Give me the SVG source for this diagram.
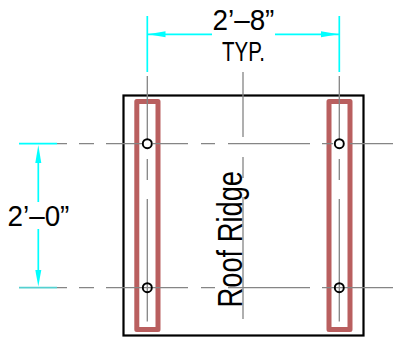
<svg xmlns="http://www.w3.org/2000/svg" width="393" height="337" viewBox="0 0 393 337">
<style>
.g{stroke:#858585;stroke-width:1.3;fill:none}
.c{stroke:#00ffff;stroke-width:1.7;fill:none}
.a{fill:#00ffff;stroke:none}
.r{fill:none;stroke:#b95f5f;stroke-width:5;stroke-linejoin:round}
.h{stroke:#000;stroke-width:1.9}
text{font-family:"Liberation Sans",Arial,sans-serif;fill:#000}
</style>
<g id="roof"><rect x="123.500" y="95.500" width="240" height="240" fill="none" stroke="#000" stroke-width="2.200"/></g>
<g id="strut-left"><rect x="136.800" y="101.600" width="21.200" height="228" class="r"/></g>
<g id="strut-right"><rect x="329" y="101.600" width="21" height="228" class="r"/></g>
<g id="connectors">
<path class="g" d="M57 143.700H67M79 143.700H94M106 143.700H142M153 143.700H188M201 143.700H215M228 143.700H310M322 143.700H333M350 143.700H393"/>
<path class="g" d="M57 287.700H67M79 287.700H94M106 287.700H188M201 287.700H215M228 287.700H310M322 287.700H393"/>
<path class="g" d="M147.300 76V139M147.300 159V180M147.300 199V321.500"/>
<path class="g" d="M339.300 76V139M339.300 159V180M339.300 199V321.500"/>
<path class="g" d="M243 72V137M243 157V178M243 197V319"/>
<path class="c" d="M147.300 16V72M339.300 16V72M148 34.300H212M275 34.300H339M19 143.700H57M38.300 155V202M38.300 229V278"/>
<path d="M19 287.700H57" fill="none" stroke="#55d0d0" stroke-width="1.700"/>
<path class="a" d="M148 34.300L165.500 31.300V37.300Z"/>
<path class="a" d="M338.500 34.300L321 31.300V37.300Z"/>
<path class="a" d="M38.300 145L35.300 163H41.300Z"/>
<path class="a" d="M38.300 286.500L35.300 270H41.300Z"/>
</g>
<g id="holes">
<circle class="h" fill="#fff" cx="147.300" cy="143.700" r="4.500"/>
<circle class="h" fill="#fff" cx="339.300" cy="143.700" r="4.500"/>
<circle class="h" fill="none" cx="147.300" cy="287.700" r="4.500"/>
<circle class="h" fill="none" cx="339.300" cy="287.700" r="4.500"/>
</g>
<g id="labels">
<text transform="translate(212.500 29.500) scale(0.96 1)" font-size="29">2’–8”</text>
<text transform="translate(222 61) scale(0.76 1)" font-size="27">TYP.</text>
<text transform="translate(7.500 226) scale(0.96 1)" font-size="29">2’–0”</text>
<text transform="translate(242 307.500) rotate(-90) scale(0.78 1)" font-size="35">Roof Ridge</text>
</g>
</svg>
